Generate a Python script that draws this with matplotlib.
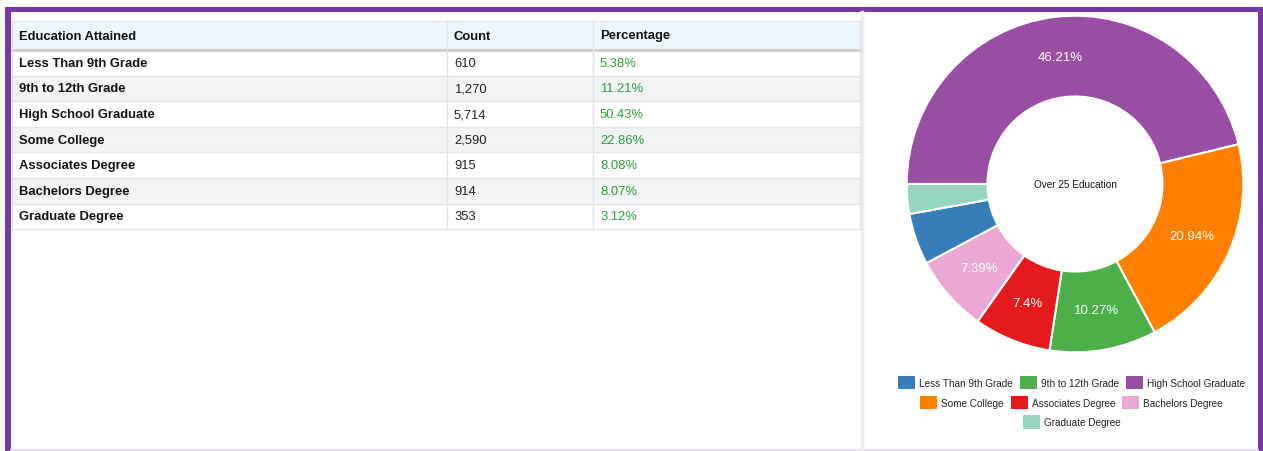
import numpy as np
import matplotlib.pyplot as plt
from matplotlib.patches import Rectangle

plt.rcParams['font.family'] = ['Liberation Sans', 'DejaVu Sans']

# Datos
categorias = ['Less Than 9th Grade', '9th to 12th Grade', 'High School Graduate',
              'Some College', 'Associates Degree', 'Bachelors Degree', 'Graduate Degree']
conteos = [610, 1270, 5714, 2590, 915, 914, 353]
porcentajes = ['5.38%', '11.21%', '50.43%', '22.86%', '8.08%', '8.07%', '3.12%']
columnas = ['Education Attained', 'Count', 'Percentage']
colores = ['#377eb8', '#4daf4a', '#984ea3', '#ff7f00', '#e41a1c', '#eaa7d4', '#94d4c0']
titulo_centro = 'Over 25 Education'

W, H = 1263, 452
fig = plt.figure(figsize=(W / 100, H / 100), dpi=100)

# Eje de fondo en pixeles
bg = fig.add_axes([0, 0, 1, 1])
bg.set_xlim(0, W)
bg.set_ylim(H, 0)
bg.axis('off')

morado = '#7737a6'
bg.add_patch(Rectangle((5, 8), W - 5, 5, color=morado, lw=0))
bg.add_patch(Rectangle((5, 8), 6, H, color=morado, lw=0))
bg.add_patch(Rectangle((1258, 8), 5, H, color=morado, lw=0))
bg.plot([11, 1258], [451, 451], color='#e4dcf0', lw=1.5)
bg.plot([862, 862], [13, 451], color='#ececec', lw=2.5)

# Tabla
xcols = [12, 447, 593, 860]
y0, hh, rh = 22, 29, 25.6
fs = 9.4
bg.add_patch(Rectangle((xcols[0], y0), xcols[-1] - xcols[0], hh, facecolor='#edf6fd',
                       edgecolor='#e6e6e6', lw=0.8))
for j, col in enumerate(columnas):
    bg.text(xcols[j] + 7, y0 + hh / 2, col, fontsize=fs, fontweight='bold',
            color='#111111', va='center', ha='left')
bg.plot([xcols[0], xcols[-1]], [y0 + hh, y0 + hh], color='#c9cbcd', lw=2)

for i, cat in enumerate(categorias):
    top = y0 + hh + i * rh
    fondo = '#ffffff' if i % 2 == 0 else '#f2f3f4'
    bg.add_patch(Rectangle((xcols[0], top), xcols[-1] - xcols[0], rh, facecolor=fondo,
                           edgecolor='none'))
    bg.plot([xcols[0], xcols[-1]], [top + rh, top + rh], color='#e2e3e5', lw=1)
    yc = top + rh / 2
    bg.text(xcols[0] + 7, yc, cat, fontsize=fs, fontweight='bold', color='#111111',
            va='center')
    bg.text(xcols[1] + 7, yc, f'{conteos[i]:,}', fontsize=fs, color='#222222', va='center')
    bg.text(xcols[2] + 7, yc, porcentajes[i], fontsize=fs, color='#2f9a3c', va='center')

ybot = y0 + hh + len(categorias) * rh
for x in xcols:
    bg.plot([x, x], [y0, ybot], color='#e2e3e5', lw=1)

# Dona
cx, cy, R = 1075, 185, 170
axp = fig.add_axes([(cx - R) / W, (H - cy - R) / H, 2 * R / W, 2 * R / H])
orden = np.argsort(conteos)[::-1]
vals = [conteos[k] for k in orden]
cols = [colores[k] for k in orden]


def etiqueta(p):
    if p < 6:
        return ''
    return f'{p:.2f}'.rstrip('0').rstrip('.') + '%'


wedges, textos, autot = axp.pie(vals, colors=cols, startangle=180, counterclock=False,
                                autopct=etiqueta, pctdistance=0.76,
                                wedgeprops=dict(width=0.48, edgecolor='white', linewidth=1.5),
                                textprops=dict(color='white', fontsize=9.5))
axp.set_xlim(-1.01, 1.01)
axp.set_ylim(-1.01, 1.01)
axp.text(0, 0, titulo_centro, ha='center', va='center', fontsize=7.2, color='#111111')

# Leyenda en tres filas centradas
handles = [None] * len(categorias)
for w, k in zip(wedges, orden):
    handles[k] = w
filas = [[0, 1, 2], [3, 4, 5], [6]]
ys = [383.5, 403.5, 423]
for fila, yf in zip(filas, ys):
    leg = fig.legend([handles[k] for k in fila], [categorias[k] for k in fila],
                     loc='center', bbox_to_anchor=(1071.5 / W, 1 - yf / H), ncol=len(fila),
                     frameon=False, fontsize=7.2, handlelength=1.7, handleheight=1.7,
                     handletextpad=0.4, columnspacing=0.7, borderpad=0, borderaxespad=0)
    for hnd in leg.legend_handles:
        hnd.set_edgecolor('none')
    for t in leg.get_texts():
        t.set_color('#222222')

fig.savefig('out.png', dpi=100)
